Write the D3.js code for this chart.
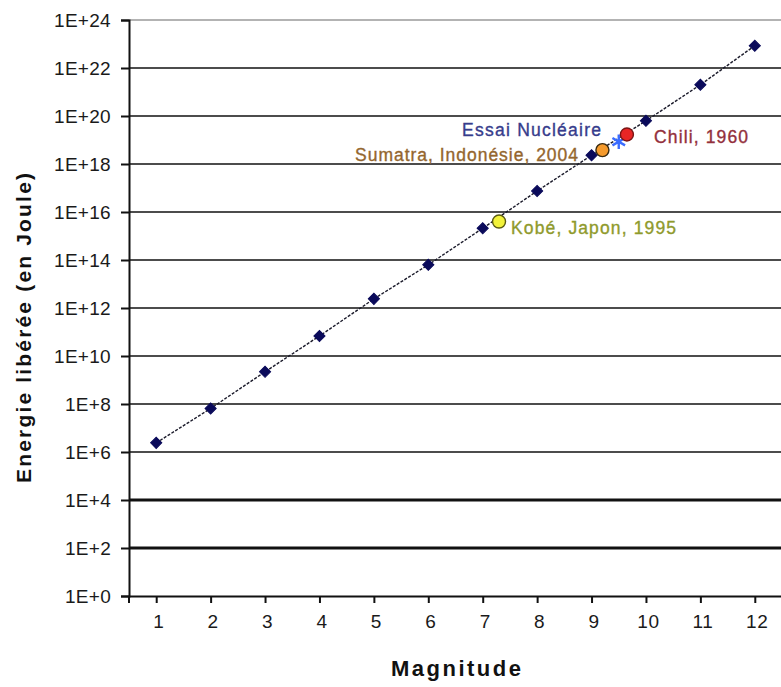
<!DOCTYPE html>
<html>
<head>
<meta charset="utf-8">
<script src="https://cdn.jsdelivr.net/npm/d3@7"></script>
<style>
  html, body { margin: 0; padding: 0; background: #fff; }
  svg { display: block; }
</style>
</head>
<body>
<div id="chart"></div>
<script>
// ---- Data ----
const magnitudes = [1, 2, 3, 4, 5, 6, 7, 8, 9, 10, 11, 12];
const energies = [2.4e6, 6.5e7, 2.2e9, 6.8e10, 2.4e12, 6.3e13, 2.1e15, 7.5e16, 2.3e18, 6.3e19, 2.0e21, 8.5e22];
const eventNames = ["Kobé, Japon, 1995", "Sumatra, Indonésie, 2004", "Essai Nucléaire", "Chili, 1960"];
const eventMagnitudes = [7.3, 9.2, 9.5, 9.65];
const eventEnergies = [4.0e15, 3.8e18, 8.5e18, 1.7e19];
const yTickExponents = [0, 2, 4, 6, 8, 10, 12, 14, 16, 18, 20, 22, 24];
const xTickLabels = ["1", "2", "3", "4", "5", "6", "7", "8", "9", "10", "11", "12"];

// ---- Styles ----
const eventStyles = [
  {fill: "#f2f23a", stroke: "#5a5a10", text: "#8f9a2c", shape: "circle", lx: 511, ly: 228, len: 165, anchor: "start"},
  {fill: "#f59a2c", stroke: "#3a2a10", text: "#94662e", shape: "circle", lx: 578, ly: 155, len: 223, anchor: "end"},
  {fill: "#3a6cff", stroke: "#3a6cff", text: "#363c8c", shape: "star", lx: 601, ly: 130, len: 139, anchor: "end"},
  {fill: "#e82525", stroke: "#7a1515", text: "#93303c", shape: "circle", lx: 654, ly: 137, len: 94, anchor: "start"}
];

const W = 781, H = 687;
const svg = d3.select("#chart").append("svg").attr("width", W).attr("height", H);

const x = d3.scaleLinear().domain([0.5, 12.5]).range([129, 782]);
const y = d3.scaleLog().domain([1, 1e24]).range([596, 20]);

// gridlines
const grid = svg.append("g");
yTickExponents.forEach(e => {
  if (e === 0) return;
  let col = "#111", sw = 1.6;
  if (e === 24) { col = "#9a9a9a"; sw = 1.6; }
  if (e === 4 || e === 2) { sw = 3.2; }
  grid.append("line")
    .attr("x1", 129).attr("x2", W)
    .attr("y1", y(Math.pow(10, e))).attr("y2", y(Math.pow(10, e)))
    .attr("stroke", col).attr("stroke-width", sw);
});

// y axis
const yAxis = d3.axisLeft(y)
  .tickValues(yTickExponents.map(e => Math.pow(10, e)))
  .tickFormat(d => "1E+" + Math.round(Math.log10(d)))
  .tickSize(8).tickPadding(10);
const gy = svg.append("g").attr("transform", "translate(129,0)").call(yAxis);
gy.select(".domain").attr("stroke", "#111").attr("stroke-width", 2);
gy.selectAll(".tick line").attr("stroke", "#111").attr("stroke-width", 2);
gy.selectAll(".tick text")
  .attr("font-family", "Liberation Sans, Arial, sans-serif")
  .attr("font-size", 19).attr("fill", "#1a1a1a").attr("letter-spacing", 0.3);

// x axis
const xAxis = d3.axisBottom(x)
  .tickValues(magnitudes)
  .tickFormat((d, i) => xTickLabels[i])
  .tickSize(7).tickPadding(12).tickSizeOuter(0);
const gx = svg.append("g").attr("transform", "translate(0,596)").call(xAxis);
gx.select(".domain").attr("stroke", "#111").attr("stroke-width", 2);
gx.selectAll(".tick line").attr("stroke", "#111").attr("stroke-width", 2);
gx.selectAll(".tick text")
  .attr("font-family", "Liberation Sans, Arial, sans-serif")
  .attr("font-size", 19).attr("fill", "#1a1a1a").attr("dx", 2).attr("letter-spacing", 0.6);
gx.append("line").attr("x1", 129).attr("x2", 129).attr("y1", 0).attr("y2", 7)
  .attr("stroke", "#111").attr("stroke-width", 2);

// line
const line = d3.line().x((d, i) => x(magnitudes[i])).y(d => y(d));
svg.append("path").datum(energies)
  .attr("d", line).attr("fill", "none")
  .attr("stroke", "#1a1a2a").attr("stroke-width", 1.4)
  .attr("stroke-dasharray", "3,1.5");

// diamonds
svg.append("g").selectAll("path").data(energies).join("path")
  .attr("d", d3.symbol().type(d3.symbolSquare).size(62))
  .attr("transform", (d, i) => `translate(${x(magnitudes[i])},${y(d)}) rotate(45)`)
  .attr("fill", "#0a0a5a").attr("stroke", "#0a0a5a").attr("stroke-width", 1);

// events
eventNames.forEach((name, i) => {
  const st = eventStyles[i];
  const cx = x(eventMagnitudes[i]), cy = y(eventEnergies[i]);
  if (st.shape === "circle") {
    svg.append("circle").attr("cx", cx).attr("cy", cy).attr("r", 6.5)
      .attr("fill", st.fill).attr("stroke", st.stroke).attr("stroke-width", 1.4);
  } else {
    svg.append("path")
      .attr("d", d3.symbol().type(d3.symbolAsterisk).size(150))
      .attr("transform", `translate(${cx},${cy})`)
      .attr("fill", "none").attr("stroke", st.fill).attr("stroke-width", 2.4);
  }
  svg.append("text")
    .attr("x", st.lx).attr("y", st.ly).attr("dy", "0.35em")
    .attr("text-anchor", st.anchor)
    .attr("font-family", "Liberation Sans, Arial, sans-serif")
    .attr("font-size", 17.5).attr("fill", st.text)
    .attr("stroke", st.text).attr("stroke-width", 0.35)
    .attr("textLength", st.len).attr("lengthAdjust", "spacing")
    .text(name);
});

// axis titles
svg.append("text")
  .attr("x", 456).attr("y", 668).attr("dy", "0.35em")
  .attr("text-anchor", "middle")
  .attr("font-family", "Liberation Sans, Arial, sans-serif")
  .attr("font-weight", "bold").attr("font-size", 22).attr("fill", "#111")
  .attr("textLength", 130).attr("lengthAdjust", "spacing")
  .text("Magnitude");

svg.append("text")
  .attr("transform", "translate(24,328) rotate(-90)")
  .attr("dy", "0.35em")
  .attr("text-anchor", "middle")
  .attr("font-family", "Liberation Sans, Arial, sans-serif")
  .attr("font-weight", "bold").attr("font-size", 21).attr("fill", "#111")
  .attr("textLength", 310).attr("lengthAdjust", "spacing")
  .text("Energie libérée (en Joule)");
</script>
</body>
</html>
